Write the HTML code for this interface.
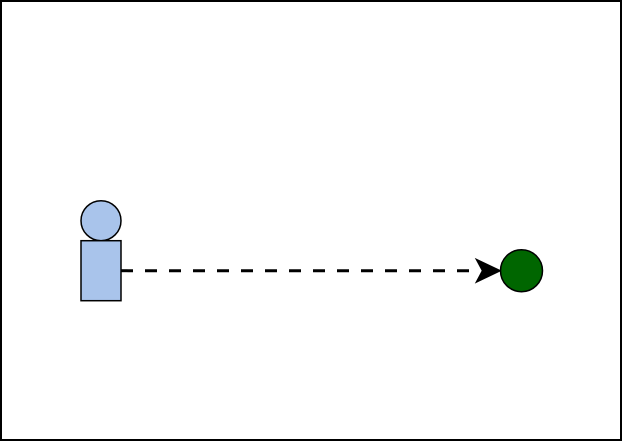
<!DOCTYPE html>
<html><head><style>html,body{margin:0;padding:0;background:#fff;}svg{display:block}</style></head>
<body>
<svg width="624" height="442" viewBox="0 0 624 442" xmlns="http://www.w3.org/2000/svg">
<rect x="1" y="1" width="620" height="439" fill="#fff" stroke="#000" stroke-width="2"/>
<circle cx="101" cy="220.7" r="20" fill="#A9C4EB" stroke="#000" stroke-width="1.5"/>
<rect x="81" y="240.7" width="40" height="60" fill="#A9C4EB" stroke="#000" stroke-width="1.5"/>
<line x1="121" y1="270.7" x2="480" y2="270.7" stroke="#000" stroke-width="3" stroke-dasharray="12 12"/>
<path d="M500,270.7 L476.5,259.5 L482.5,270.7 L476.5,282 Z" fill="#000" stroke="#000" stroke-width="1.5"/>
<circle cx="521.5" cy="270.7" r="21" fill="#006600" stroke="#000" stroke-width="1.5"/>
</svg>
</body></html>
